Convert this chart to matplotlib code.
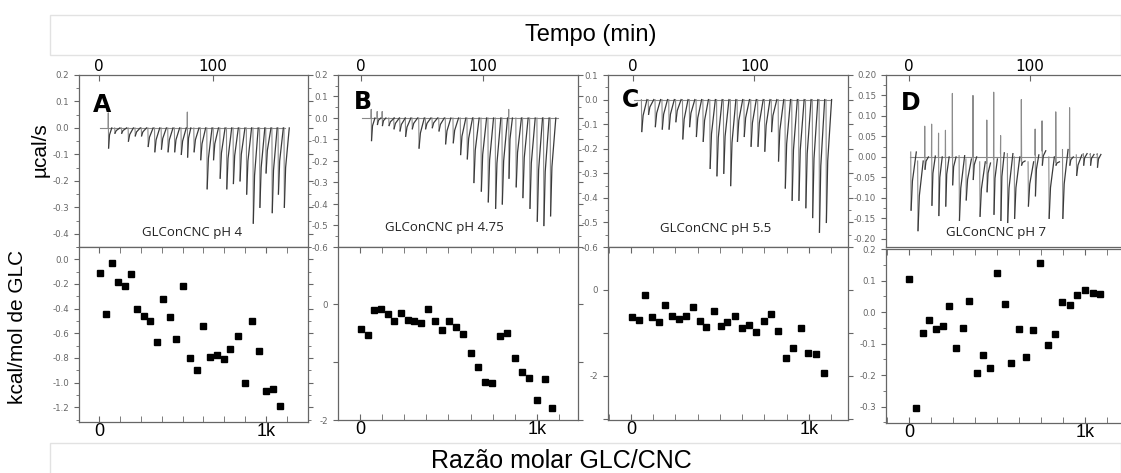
import matplotlib.pyplot as plt
from matplotlib.patches import Rectangle
from matplotlib.ticker import FixedLocator, MultipleLocator, FormatStrFormatter

W, H = 1121, 473

# ----------------------------
# Thermograms (top row): injection times (min) and peak heights (ucal/s)
# ----------------------------
inj_time_a = [8, 13.7, 19.6, 25.5, 31.5, 37, 42.8, 48.6, 54.4, 60.2, 66, 71.8, 77.2, 83,
              88.8, 94.4, 100, 105.8, 111.6, 117.4, 123.2, 129, 134.8, 140.6, 146, 151.4, 156.8, 162]
peak_a = [-0.076, -0.02, -0.02, -0.05, -0.03, -0.03, -0.07, -0.09, -0.08, -0.09, -0.09, -0.10,
          -0.11, -0.09, -0.12, -0.23, -0.12, -0.19, -0.23, -0.21, -0.20, -0.25, -0.36, -0.30,
          -0.17, -0.32, -0.25, -0.30]
up_a = [0.057, 0, 0, 0, 0, 0, 0, 0, 0, 0, 0, 0, 0.06, 0, 0, 0, 0, 0, 0, 0, 0, 0, 0, 0, 0, 0, 0, 0]

inj_time_b = [8.2, 13.1, 17.2, 22.7, 26.8, 31.7, 36.3, 41.8, 47.3, 52.7, 58.2, 63.7, 69.1, 75.4,
              81.4, 86.9, 92.3, 98.4, 104.1, 110.1, 115.6, 121, 127, 132.5, 138.3, 144.3, 149.7, 155.2]
peak_b = [-0.105, -0.03, -0.035, -0.035, -0.05, -0.06, -0.085, -0.05, -0.14, -0.05, -0.045, -0.06,
          -0.12, -0.115, -0.17, -0.19, -0.30, -0.34, -0.39, -0.42, -0.40, -0.28, -0.32, -0.37,
          -0.42, -0.48, -0.50, -0.455]
up_b = [0.04, 0.03, 0.03, 0, 0, 0, 0, 0, 0, 0, 0, 0, 0, 0, 0, 0, 0, 0, 0, 0, 0, 0.04, 0, 0, 0, 0, 0, 0]

inj_time_c = [6.9, 12.5, 18.1, 23.8, 29.4, 35, 40.7, 46.3, 51.9, 57.5, 63.2, 68.8, 74.4, 80.1,
              85.7, 91.3, 96.9, 102.6, 108.2, 113.8, 119.5, 125.1, 130.7, 136.3, 142, 147.6, 153.2, 158.9]
peak_c = [-0.13, -0.06, -0.11, -0.12, -0.12, -0.09, -0.16, -0.11, -0.15, -0.17, -0.28, -0.31,
          -0.30, -0.35, -0.17, -0.15, -0.19, -0.19, -0.21, -0.13, -0.25, -0.36, -0.41, -0.41,
          -0.44, -0.48, -0.54, -0.50]
up_c = [0.0] * 28

inj_time_d = [1.4, 7.1, 12.8, 18.5, 24.2, 29.9, 35.6, 41.3, 46.9, 52.6, 58.3, 64, 69.7, 75.4,
              81.1, 86.8, 92.5, 98.2, 103.9, 109.6, 115.3, 120.9, 126.6, 132.3, 138, 143.7, 149.4, 155.1]
peak_d = [-0.13, -0.18, -0.03, -0.118, -0.143, -0.12, -0.068, -0.155, -0.105, -0.055, -0.145,
          -0.085, -0.14, -0.155, -0.16, -0.15, -0.02, -0.12, -0.095, -0.02, -0.15, -0.02, -0.15,
          -0.02, -0.045, -0.02, -0.02, -0.025]
up_d = [0.0, 0.0, 0.075, 0.08, 0.058, 0.065, 0.155, 0.0, 0.0, 0.15, 0.0, 0.09, 0.158, 0.052,
        0.0, 0.0, 0.14, 0.0, 0.068, 0.088, 0.0, 0.11, 0.0, 0.12, 0.0, 0.008, 0.008, 0.008]
drift_d = [0.012, -0.01, 0.0, 0.002, 0.0, 0.0, 0.0, 0.003, -0.005, 0.0, -0.012, -0.015, -0.005,
           0.01, 0.008, 0.0, -0.01, -0.012, 0.005, 0.015, 0.0, -0.012, 0.018, 0.0, 0.005, 0.008,
           0.006, 0.006]

# ----------------------------
# Integrated heats (bottom row): molar ratio and kcal/mol
# ----------------------------
ratio_a = [4, 40, 78, 116, 154, 190, 228, 268, 306, 344, 384, 422, 462, 500, 542, 584, 624, 664,
           706, 746, 786, 830, 872, 914, 956, 1000, 1044, 1084]
heat_a = [-0.11, -0.44, -0.03, -0.18, -0.22, -0.12, -0.40, -0.46, -0.50, -0.67, -0.32, -0.47,
          -0.65, -0.22, -0.80, -0.90, -0.54, -0.79, -0.78, -0.81, -0.73, -0.62, -1.00, -0.50,
          -0.74, -1.07, -1.05, -1.19]

ratio_b = [6, 43, 81, 119, 157, 194, 232, 270, 308, 347, 385, 425, 464, 504, 543, 585, 625, 666,
           706, 747, 789, 830, 874, 915, 957, 1000, 1043, 1087]
heat_b = [-0.43, -0.54, -0.10, -0.08, -0.17, -0.30, -0.16, -0.27, -0.30, -0.33, -0.09, -0.29,
          -0.44, -0.29, -0.39, -0.51, -0.84, -1.08, -1.35, -1.37, -0.55, -0.50, -0.93, -1.18,
          -1.27, -1.65, -1.30, -1.80]

ratio_c = [6, 43, 80, 118, 155, 193, 230, 267, 307, 346, 385, 424, 464, 503, 542, 583, 622, 664,
           705, 746, 787, 828, 871, 912, 953, 996, 1041, 1084]
heat_c = [-0.64, -0.71, -0.12, -0.64, -0.76, -0.36, -0.60, -0.67, -0.62, -0.40, -0.72, -0.86,
          -0.50, -0.83, -0.76, -0.60, -0.89, -0.81, -0.98, -0.72, -0.56, -0.95, -1.58, -1.36,
          -0.88, -1.47, -1.49, -1.94]

ratio_d = [2, 40, 78, 116, 153, 191, 229, 267, 305, 343, 383, 422, 462, 502, 542, 581, 623, 663,
           703, 746, 788, 830, 871, 913, 956, 1000, 1044, 1085]
heat_d = [0.104, -0.303, -0.067, -0.026, -0.054, -0.044, 0.020, -0.113, -0.050, 0.036, -0.192,
          -0.135, -0.178, 0.124, 0.026, -0.163, -0.053, -0.143, -0.058, 0.156, -0.103, -0.069,
          0.032, 0.022, 0.055, 0.071, 0.060, 0.056]

SAMPLE_LABELS = ["GLConCNC pH 4", "GLConCNC pH 4.75", "GLConCNC pH 5.5", "GLConCNC pH 7"]
PANEL_LETTERS = ["A", "B", "C", "D"]

SPINE = "#666666"
TICKTXT = "#666666"


def px_axes(fig, x0, y0, x1, y1):
    return fig.add_axes([x0 / W, 1 - y1 / H, (x1 - x0) / W, (y1 - y0) / H])


def build_trace(times, peaks, ups, drift=None):
    # light "drop" strokes and darker slanted "return" strokes, NaN-separated
    dx, dy, rx, ry = [], [], [], []
    for i, (t, p) in enumerate(zip(times, peaks)):
        b = drift[i] if drift is not None else 0.0
        if ups[i] != 0:
            dx += [t, t + 0.15, t + 0.4, None]
            dy += [b, ups[i], p, None]
            rx += [t + 0.4, t + 1.2, t + 3.2, None]
            ry += [p, b + 0.35 * (p - b), b, None]
        else:
            dx += [t, t + 0.3, None]
            dy += [b, p, None]
            rx += [t + 0.3, t + 1.4, t + 4.6, None]
            ry += [p, b + 0.5 * (p - b), b, None]
    return dx, dy, rx, ry


def style_axes(ax):
    for s in ax.spines.values():
        s.set_color(SPINE)
        s.set_linewidth(0.9)
    ax.tick_params(axis="y", which="both", colors=SPINE, labelcolor=TICKTXT,
                   labelsize=6.2, direction="out", right=True)
    ax.tick_params(axis="y", which="major", length=3.5)
    ax.tick_params(axis="y", which="minor", length=2)


fig = plt.figure(figsize=(W / 100, H / 100), dpi=100)

panels = [
    dict(x0=79, x1=308, bot=422, top_xlim=(-17.5, 183), bot_xlim=(-120, 1251),
         top_ylim=(-0.45, 0.2), top_major=0.1, top_fmt="%.1f",
         bot_ylim=(-1.32, 0.1), bot_ticks=[-1.2, -1.0, -0.8, -0.6, -0.4, -0.2, 0.0],
         bot_labels=["-1.2", "-1.0", "-0.8", "-0.6", "-0.4", "-0.2", "0.0"], bot_minor=0.1,
         times=inj_time_a, peaks=peak_a, ups=up_a, drift=None, base_end=163,
         ratio=ratio_a, heat=heat_a, letter_xy=(93, 112), label_xy=(192, 232)),
    dict(x0=338, x1=578, bot=420, top_xlim=(-18.9, 178), bot_xlim=(-124, 1232),
         top_ylim=(-0.6, 0.2), top_major=0.1, top_fmt="%.1f",
         bot_ylim=(-2.0, 0.985), bot_ticks=[-2, -1, 0], bot_labels=["-2", "", "0"], bot_minor=None,
         times=inj_time_b, peaks=peak_b, ups=up_b, drift=None, base_end=162,
         ratio=ratio_b, heat=heat_b, letter_xy=(354, 109), label_xy=(444, 227)),
    dict(x0=608, x1=848, bot=420, top_xlim=(-20.6, 177), bot_xlim=(-129, 1219),
         top_ylim=(-0.6, 0.1), top_major=0.1, top_fmt="%.1f",
         bot_ylim=(-3.02, 0.99), bot_ticks=[-3, -2, -1, 0], bot_labels=["", "-2", "", "0"],
         bot_minor=None,
         times=inj_time_c, peaks=peak_c, ups=up_c, drift=None, base_end=163,
         ratio=ratio_c, heat=heat_c, letter_xy=(622, 107), label_xy=(716, 228)),
    dict(x0=886, x1=1126, bot=423, top_xlim=(-19, 179), bot_xlim=(-131, 1232),
         top_ylim=(-0.22, 0.2), top_major=0.05, top_fmt="%.2f",
         bot_ylim=(-0.352, 0.2), bot_ticks=[-0.3, -0.2, -0.1, 0.0, 0.1, 0.2],
         bot_labels=["-0.3", "-0.2", "-0.1", "0.0", "0.1", "0.2"], bot_minor=0.05,
         times=inj_time_d, peaks=peak_d, ups=up_d, drift=drift_d, base_end=157,
         ratio=ratio_d, heat=heat_d, letter_xy=(901, 110), label_xy=(996, 232)),
]

for k, p in enumerate(panels):
    # ---- thermogram ----
    ax = px_axes(fig, p["x0"], 75, p["x1"], 247)
    style_axes(ax)
    ax.plot([0.5, p["base_end"]], [0, 0], color="#8a8a8a", linewidth=0.8)
    dx, dy, rx, ry = build_trace(p["times"], p["peaks"], p["ups"], p["drift"])
    ax.plot(dx, dy, color="#8c8c8c", linewidth=0.8)
    ax.plot(rx, ry, color="#3a3a3a", linewidth=0.9)
    ax.set_xlim(*p["top_xlim"])
    ax.set_ylim(*p["top_ylim"])
    ax.yaxis.set_major_locator(MultipleLocator(p["top_major"]))
    ax.yaxis.set_minor_locator(MultipleLocator(p["top_major"] / 2))
    ax.yaxis.set_major_formatter(FormatStrFormatter(p["top_fmt"]))
    ax.xaxis.tick_top()
    ax.xaxis.set_major_locator(FixedLocator([0, 100]))
    ax.tick_params(axis="x", which="major", direction="in", length=4, colors=SPINE,
                   labelcolor="black", labelsize=11, pad=1, bottom=False)
    ax.set_xticklabels(["0", "100"])

    # ---- integrated heats ----
    top_y = 249 if k == 3 else 247
    bx = px_axes(fig, p["x0"], top_y, p["x1"], p["bot"])
    style_axes(bx)
    bx.plot(p["ratio"], p["heat"], linestyle="none", marker="s", markersize=4.4,
            color="black")
    bx.set_xlim(*p["bot_xlim"])
    bx.set_ylim(*p["bot_ylim"])
    bx.yaxis.set_major_locator(FixedLocator(p["bot_ticks"]))
    bx.set_yticklabels(p["bot_labels"])
    if p["bot_minor"]:
        bx.yaxis.set_minor_locator(MultipleLocator(p["bot_minor"]))
    bx.xaxis.set_major_locator(FixedLocator([0, 1000]))
    bx.xaxis.set_minor_locator(MultipleLocator(125))
    bx.set_xticklabels(["0", "1k"])
    bx.tick_params(axis="x", which="both", direction="in", length=4, colors=SPINE,
                   labelcolor="black", labelsize=13, top=True, pad=1)
    for lab in bx.get_xticklabels():
        lab.set_family(["Liberation Sans Narrow", "Liberation Sans"])

    # ---- texts ----
    lx, ly = p["letter_xy"]
    fig.text(lx / W, 1 - ly / H, PANEL_LETTERS[k], fontsize=17, fontweight="bold",
             ha="left", va="baseline", color="black")
    sx, sy = p["label_xy"]
    fig.text(sx / W, 1 - sy / H, SAMPLE_LABELS[k], fontsize=9.5, ha="center", va="center",
             family="Open Sans", color="#222222")

# outer label boxes
fig.patches.append(Rectangle((50 / W, 1 - 55 / H), 1071 / W, 40 / H, transform=fig.transFigure,
                             facecolor="white", edgecolor="#e2e2e2", linewidth=1, zorder=0))
fig.patches.append(Rectangle((50 / W, 1 - 480 / H), 1071 / W, 37 / H, transform=fig.transFigure,
                             facecolor="white", edgecolor="#e2e2e2", linewidth=1, zorder=0))

fig.text(591 / W, 1 - 35 / H, "Tempo (min)", fontsize=17, ha="center", va="center",
         family="Liberation Sans")
fig.text(561 / W, 1 - 461 / H, "Razão molar GLC/CNC", fontsize=18, ha="center", va="center",
         family=["Liberation Sans Narrow", "Liberation Sans"])
fig.text(40 / W, 1 - 150 / H, "µcal/s", fontsize=15, rotation=90, ha="center", va="center",
         family="Liberation Sans")
fig.text(18 / W, 1 - 327 / H, "kcal/mol de GLC", fontsize=15, rotation=90, ha="center",
         va="center", family="Liberation Sans")

plt.savefig("out.png", dpi=100)
plt.close()
